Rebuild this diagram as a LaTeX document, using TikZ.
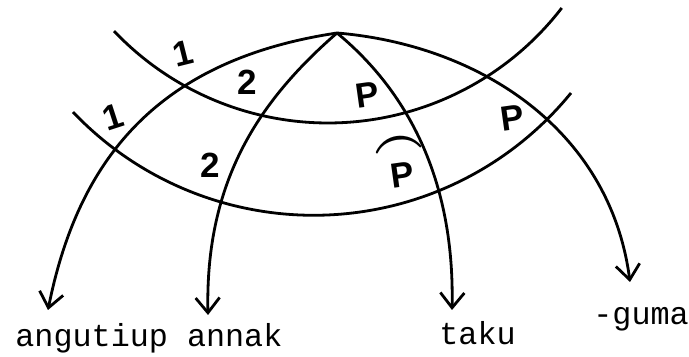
\documentclass[tikz,border=0pt]{standalone}
\usepackage{fontspec}
\usepackage{graphicx}
\setmonofont{Liberation Mono}
\newfontfamily\handfont{Liberation Sans}
\usetikzlibrary{arrows.meta}
\begin{document}
\begin{tikzpicture}[
  x=0.5pt,y=0.5pt,
  every path/.style={line width=1.4pt},
  word/.style={font=\ttfamily\fontsize{15.9}{18}\selectfont,inner sep=0pt,anchor=base west},
  hand/.style={font=\handfont\bfseries\fontsize{17.5}{18}\selectfont,inner sep=0pt},
  arr/.style={-{Straight Barb[length=7.5pt,width=12pt]}}]
  \useasboundingbox (0,0) rectangle (689,357);
  % the two bands, both arcs of circles centred above the picture
  \draw (328,529) ++(-136.5:295) arc[start angle=-136.5,end angle=-37.6,radius=295];
  \draw (313.6,473.7) ++(-136.45:332) arc[start angle=-136.45,end angle=-39.17,radius=332];

  % all four arrows leave the same point at the top
  \coordinate (apex) at (337,324);
  \coordinate (tipA) at (48,47);
  \coordinate (tipN) at (208,42);
  \coordinate (tipT) at (452,47);
  \coordinate (tipG) at (630,75);
  \draw[arr] (apex) .. controls (157,297) and (78,197) .. (tipA);
  \draw[arr] (apex) .. controls (260,257) and (205,177) .. (tipN);
  \draw[arr] (apex) .. controls (400,272) and (455,187) .. (tipT);
  \draw[arr] (apex) .. controls (480,312) and (610,227) .. (tipG);

  \node[word] (angutiup) at (14,10) {angutiup};
  \node[word] (annak) at (185.6,10) {annak};
  \node[word] (taku) at (438,12) {taku};
  \node[word] (guma) at (592,32) {-guma};

  % hand-written marks in the cells
  \node[hand,rotate=14] (oneU) at (183,304) {1};
  \node[hand] (twoU) at (247,275) {2};
  \node[hand,rotate=18] (oneL) at (113,240) {1};
  \node[hand] (twoL) at (210,192) {2};
  \node[hand,rotate=8] (pU) at (367,262) {P};
  \node[hand,rotate=8] (pR) at (512,239) {P};
  \node[hand,rotate=8] (pHat) at (401,194)
    {\shortstack{\scalebox{1.3}[1.5]{\boldmath$\frown$}\\[0pt]P}};
\end{tikzpicture}
\end{document}
